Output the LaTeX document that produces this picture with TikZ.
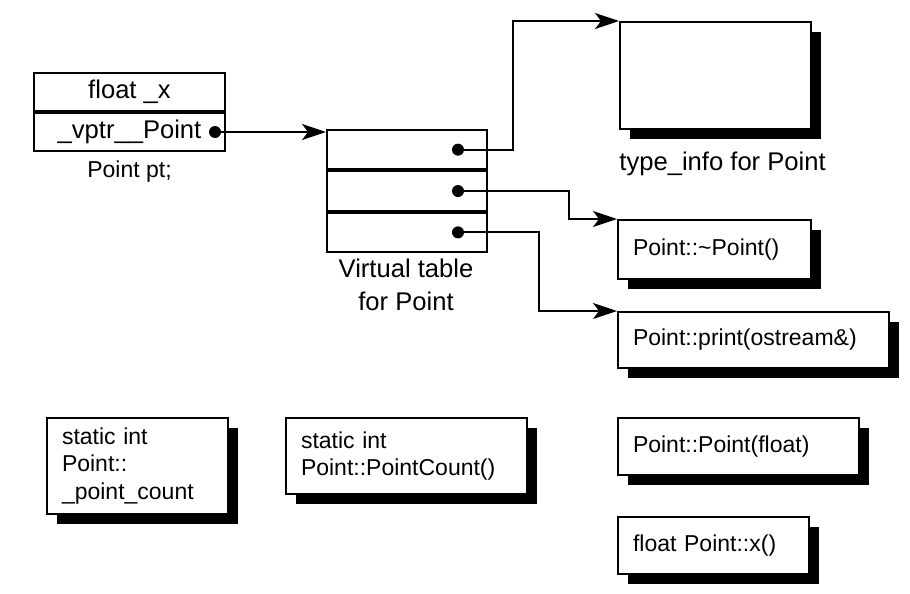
\documentclass[tikz,border=0pt]{standalone}
\usepackage{fontspec}
\setmainfont{Liberation Sans}
\usetikzlibrary{positioning,shadows,arrows.meta}
\begin{document}
\begin{tikzpicture}[x=0.5pt,y=-0.5pt,
	every node/.style={font=\fontsize{11.5}{13.8}\selectfont},
	big/.style={font=\fontsize{12.8}{16.5}\selectfont},
	cell/.style={draw,line width=1pt,inner sep=0pt,big},
	fnbox/.style={draw,line width=1pt,fill=white,anchor=north west,align=left,
		inner xsep=7.5pt,inner ysep=0pt,
		drop shadow={fill=black,opacity=1,shadow xshift=5pt,shadow yshift=-5pt}},
	ptr/.style={line width=1pt,-{Stealth[length=12pt,width=8pt,inset=3pt]}},
	dot/.style={circle,fill,inner sep=0pt,minimum size=6pt}]
	\useasboundingbox (0,0) rectangle (910,594);
	\node [cell,anchor=north west,minimum width=95.5pt,minimum height=19pt] (fx) at (33,72) {float \_x};
	\node [cell,minimum width=95.5pt,minimum height=19pt,below=0pt of fx] (vptr) {\_vptr\_\_Point};
	\node [dot] (p0) at ([xshift=-5.5pt]vptr.east) {};
	\node (ptlbl) at ([yshift=-10pt]vptr.south) {Point pt;};
	\node [cell,anchor=north west,minimum width=80pt,minimum height=19.67pt] (vt1) at (326,129) {};
	\node [cell,minimum width=80pt,minimum height=19.67pt,below=0pt of vt1] (vt2) {};
	\node [cell,minimum width=80pt,minimum height=19.67pt,below=0pt of vt2] (vt3) {};
	\foreach \c in {fx,vt1,vt2}
		\draw [line width=1.5pt] (\c.south west) -- (\c.south east);
	\foreach \i in {1,2,3}
		\node [dot] (d\i) at ([xshift=-15pt]vt\i.east) {};
	\node [big,align=center] (vtlbl) at (406,285) {Virtual table\\for Point};
	\node [fnbox,minimum width=95.5pt,minimum height=53.5pt] (tinfo) at (619,21) {};
	\node [big,anchor=west,inner xsep=0pt] (tilbl) at ([yshift=-17pt]tinfo.south west) {type\_info for Point};
	\node [fnbox,text width=81.5pt,minimum height=29.5pt] (dtor) at (617,219) {Point::\textasciitilde Point()};
	\node [fnbox,text width=120.5pt,minimum height=28pt] (prt) at (617,311) {Point::print(ostream\&)};
	\node [fnbox,text width=105.5pt,minimum height=28.5pt] (ctor) at (617,417) {Point::Point(float)};
	\node [fnbox,text width=80.5pt,minimum height=28.5pt] (getx) at (617,516) {float Point::x()};
	\node [fnbox,text width=75.5pt,minimum height=48pt] (cnt) at (46,417) {static int\\Point::\\\_point\_count};
	\node [fnbox,text width=105.5pt,minimum height=38pt] (pcnt) at (285,417) {static int\\Point::PointCount()};
	\draw [ptr] (p0) -- (p0 -| vt1.west);
	\draw [ptr] (d1) -- ++(55,0) |- (tinfo.north west);
	\draw [ptr] (d2) -- ++(111,0) |- (dtor.north west);
	\draw [ptr] (d3) -- ++(81,0) |- (prt.north west);
\end{tikzpicture}
\end{document}
